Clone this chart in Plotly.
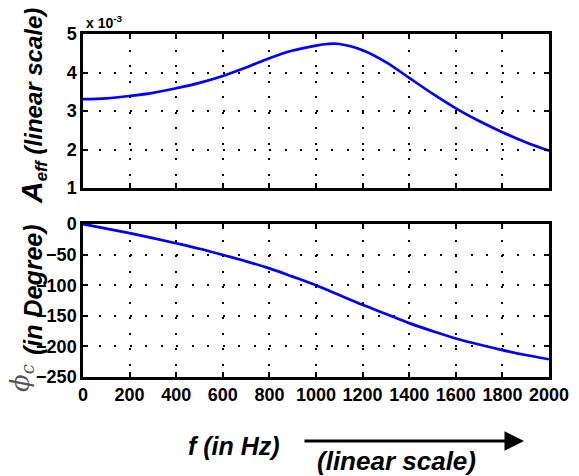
import plotly.graph_objects as go
from plotly.subplots import make_subplots

# ---- data ----
freq_hz = [0, 100, 200, 300, 400, 500, 600, 700, 800, 900, 1000, 1050, 1100,
           1200, 1300, 1400, 1500, 1600, 1700, 1800, 1900, 2000]
a_eff_x1e3 = [3.31, 3.33, 3.39, 3.47, 3.59, 3.73, 3.91, 4.13, 4.37, 4.57, 4.70,
              4.74, 4.74, 4.58, 4.27, 3.86, 3.45, 3.07, 2.74, 2.45, 2.19, 1.97]
phase_deg = [0, -7.5, -15, -23, -31.5, -40.5, -50.5, -61, -72.5, -86, -100,
             -108, -116, -132, -147, -162, -175, -187, -197, -206, -214, -221]

x_ticks = list(range(0, 2001, 200))
a_ticks = [1, 2, 3, 4, 5]
p_ticks = [-250, -200, -150, -100, -50, 0]

W, H = 579, 476
def px(x): return x / W
def py(y): return 1 - y / H

fig = make_subplots(rows=2, cols=1)
fig.add_trace(go.Scatter(x=freq_hz, y=a_eff_x1e3, mode="lines", line_shape="spline",
                         line=dict(color="#0000ff", width=2.7), showlegend=False), row=1, col=1)
fig.add_trace(go.Scatter(x=freq_hz, y=phase_deg, mode="lines", line_shape="spline",
                         line=dict(color="#0000ff", width=2.7), showlegend=False), row=2, col=1)

FONT = "Liberation Sans, Arial, sans-serif"
tickfont = dict(family=FONT, size=18, color="black", weight="bold")
common = dict(showline=True, linecolor="black", linewidth=2.5, mirror="ticks",
              ticks="inside", ticklen=5, tickwidth=2, tickcolor="black",
              showgrid=True, gridcolor="black", gridwidth=2, griddash="2px,13.5px",
              zeroline=False, tickfont=tickfont, automargin=False)

fig.update_xaxes(range=[0, 2000], tickvals=x_ticks, **common)
fig.update_xaxes(domain=[px(83), px(549)], showticklabels=False, row=1, col=1)
fig.update_xaxes(domain=[px(83), px(549)], row=2, col=1)
fig.update_yaxes(range=[1, 5], tickvals=a_ticks, domain=[py(188), py(34)], row=1, col=1, **common)
fig.update_yaxes(range=[-250, 0], tickvals=p_ticks, domain=[py(377), py(224)], row=2, col=1, **common)

anns = [
    dict(x=px(84), y=py(22), text="<b>x 10<sup>-3</sup></b>", showarrow=False,
         xanchor="left", yanchor="middle",
         font=dict(family=FONT, size=14, color="black")),
    dict(x=px(33), y=py(106), text="<b><i><span style='font-size:30px'>A</span><sub>eff</sub> (linear scale)</i></b>",
         textangle=-90, showarrow=False, xanchor="center", yanchor="middle",
         font=dict(family=FONT, size=24, color="black")),
    dict(x=px(33), y=py(290), text="<b><i>(in Degree)</i></b>",
         textangle=-90, showarrow=False, xanchor="center", yanchor="middle",
         font=dict(family=FONT, size=25, color="black")),
    dict(x=px(21), y=py(378), text="<i>ϕ<sub>c</sub></i>",
         textangle=-90, showarrow=False, xanchor="center", yanchor="middle",
         font=dict(family="DejaVu Serif, serif", size=26, color="#555555")),
    dict(x=px(234), y=py(446), text="<b><i>f (in Hz)</i></b>", showarrow=False,
         xanchor="center", yanchor="middle", font=dict(family=FONT, size=25, color="black")),
    dict(x=px(396), y=py(461), text="<b><i>(linear scale)</i></b>", showarrow=False,
         xanchor="center", yanchor="middle", font=dict(family=FONT, size=26, color="black")),
    dict(x=px(524), y=py(441), ax=-221, ay=0, text="", showarrow=True,
         arrowhead=2, arrowsize=1.3, arrowwidth=3, arrowcolor="black"),
]
for a in anns:
    a.setdefault("xref", "paper")
    a.setdefault("yref", "paper")
fig.update_layout(annotations=anns, width=W, height=H, margin=dict(l=0, r=0, t=0, b=0),
                  paper_bgcolor="white", plot_bgcolor="white")

fig.write_html("out.html", config={"displayModeBar": False},
               post_script="document.body.style.margin='0';document.body.style.overflow='hidden';")
